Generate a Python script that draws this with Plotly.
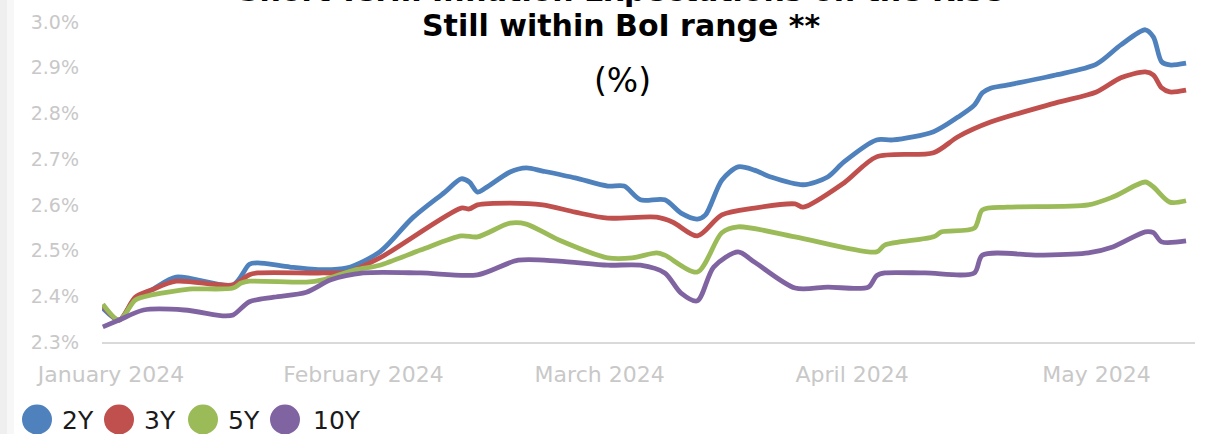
import plotly.graph_objects as go

# ---- data -------------------------------------------------------------
dates_2y = ["2023-12-31", "2024-01-02", "2024-01-04", "2024-01-06", "2024-01-09",
            "2024-01-16", "2024-01-18", "2024-01-19", "2024-01-23", "2024-01-27",
            "2024-01-30", "2024-02-03", "2024-02-07", "2024-02-11", "2024-02-13",
            "2024-02-14", "2024-02-15", "2024-02-16", "2024-02-19", "2024-02-21",
            "2024-02-23", "2024-02-27", "2024-03-02", "2024-03-04", "2024-03-06",
            "2024-03-09", "2024-03-11", "2024-03-13", "2024-03-14", "2024-03-16",
            "2024-03-18", "2024-03-20", "2024-03-22", "2024-03-26", "2024-03-29",
            "2024-03-31", "2024-04-04", "2024-04-06", "2024-04-11", "2024-04-14",
            "2024-04-16", "2024-04-17", "2024-04-18", "2024-04-20", "2024-04-26",
            "2024-05-01", "2024-05-04", "2024-05-07", "2024-05-08", "2024-05-09",
            "2024-05-10", "2024-05-12"]
values_2y = [2.374, 2.348, 2.396, 2.414, 2.442,
             2.425, 2.470, 2.473, 2.464, 2.458,
             2.462, 2.497, 2.571, 2.628, 2.657,
             2.650, 2.628, 2.637, 2.672, 2.681,
             2.674, 2.659, 2.641, 2.641, 2.611,
             2.611, 2.582, 2.569, 2.578, 2.654,
             2.683, 2.676, 2.661, 2.644, 2.661,
             2.694, 2.742, 2.742, 2.760, 2.792,
             2.818, 2.845, 2.855, 2.862, 2.884,
             2.908, 2.950, 2.983, 2.967, 2.913,
             2.906, 2.910]

dates_3y = ["2023-12-31", "2024-01-02", "2024-01-04", "2024-01-06", "2024-01-09",
            "2024-01-16", "2024-01-18", "2024-01-19", "2024-01-27", "2024-01-30",
            "2024-02-03", "2024-02-13", "2024-02-14", "2024-02-15", "2024-02-19",
            "2024-02-23", "2024-02-27", "2024-03-02", "2024-03-08", "2024-03-10",
            "2024-03-13", "2024-03-16", "2024-03-20", "2024-03-25", "2024-03-26",
            "2024-03-31", "2024-04-04", "2024-04-11", "2024-04-14", "2024-04-18",
            "2024-04-26", "2024-05-01", "2024-05-04", "2024-05-07", "2024-05-08",
            "2024-05-09", "2024-05-10", "2024-05-12"]
values_3y = [2.380, 2.348, 2.398, 2.414, 2.433,
             2.425, 2.447, 2.451, 2.451, 2.453,
             2.484, 2.593, 2.591, 2.600, 2.604,
             2.600, 2.584, 2.571, 2.573, 2.562,
             2.532, 2.578, 2.593, 2.602, 2.595,
             2.648, 2.705, 2.714, 2.749, 2.781,
             2.823, 2.847, 2.878, 2.891, 2.884,
             2.856, 2.847, 2.851]

dates_5y = ["2023-12-31", "2024-01-02", "2024-01-04", "2024-01-06", "2024-01-09",
            "2024-01-11", "2024-01-16", "2024-01-17", "2024-01-18", "2024-01-25",
            "2024-01-27", "2024-01-31", "2024-02-03", "2024-02-08", "2024-02-13",
            "2024-02-15", "2024-02-19", "2024-02-21", "2024-02-25", "2024-03-02",
            "2024-03-05", "2024-03-08", "2024-03-09", "2024-03-13", "2024-03-16",
            "2024-03-18", "2024-03-25", "2024-04-04", "2024-04-05", "2024-04-11",
            "2024-04-12", "2024-04-16", "2024-04-17", "2024-04-20", "2024-04-30",
            "2024-05-03", "2024-05-07", "2024-05-08", "2024-05-10", "2024-05-12"]
values_5y = [2.383, 2.348, 2.392, 2.403, 2.412,
             2.416, 2.418, 2.429, 2.433, 2.431,
             2.436, 2.458, 2.468, 2.501, 2.532,
             2.530, 2.560, 2.558, 2.523, 2.484,
             2.484, 2.495, 2.490, 2.453, 2.539,
             2.552, 2.530, 2.497, 2.512, 2.530,
             2.541, 2.549, 2.589, 2.595, 2.600,
             2.617, 2.650, 2.639, 2.606, 2.609]

dates_10y = ["2023-12-31", "2024-01-02", "2024-01-05", "2024-01-10", "2024-01-15",
             "2024-01-16", "2024-01-18", "2024-01-21", "2024-01-25", "2024-01-28",
             "2024-02-01", "2024-02-08", "2024-02-15", "2024-02-20", "2024-02-25",
             "2024-03-02", "2024-03-06", "2024-03-09", "2024-03-11", "2024-03-13",
             "2024-03-15", "2024-03-18", "2024-03-20", "2024-03-25", "2024-03-29",
             "2024-04-03", "2024-04-04", "2024-04-05", "2024-04-10", "2024-04-16",
             "2024-04-17", "2024-04-24", "2024-04-30", "2024-05-03", "2024-05-07",
             "2024-05-08", "2024-05-09", "2024-05-12"]
values_10y = [2.333, 2.348, 2.370, 2.370, 2.357,
              2.359, 2.388, 2.398, 2.409, 2.436,
              2.451, 2.451, 2.447, 2.479, 2.477,
              2.468, 2.468, 2.451, 2.407, 2.390,
              2.464, 2.497, 2.475, 2.418, 2.420,
              2.420, 2.445, 2.451, 2.451, 2.451,
              2.490, 2.490, 2.495, 2.508, 2.541,
              2.539, 2.519, 2.521]

series_names = ["2Y", "3Y", "5Y", "10Y"]
series_colors = ["#4F81BD", "#C0504D", "#9BBB59", "#8064A2"]
month_ticks = ["2024-01-01", "2024-02-01", "2024-03-01", "2024-04-01", "2024-05-01"]
month_labels = ["January 2024", "February 2024", "March 2024", "April 2024", "May 2024"]

title_lines = ["Short-Term Inflation Expectations on the Rise",
               "Still within BoI range **",
               "(%)"]

# ---- layout geometry (pixels) -----------------------------------------
W, H = 1229, 434
ML, MR, MT, MB = 102, 34, 22, 92
PW, PH = W - ML - MR, H - MT - MB


def fx(p):
    return (p - ML) / PW


def fy(p):
    return (H - MB - p) / PH


fig = go.Figure()
all_dates = [dates_2y, dates_3y, dates_5y, dates_10y]
all_values = [values_2y, values_3y, values_5y, values_10y]
for name, color, xs, ys in zip(series_names, series_colors, all_dates, all_values):
    fig.add_trace(go.Scatter(
        x=xs, y=ys, name=name, mode="lines",
        line=dict(color=color, width=4.8, shape="spline", smoothing=0.8),
        showlegend=False, hoverinfo="x+y+name",
    ))

fig.update_xaxes(
    type="date",
    range=["2023-12-30 21:36", "2024-05-13 02:24"],
    tickvals=month_ticks, ticktext=month_labels,
    showgrid=False, zeroline=False,
    showline=True, linecolor="#d9d9d9", linewidth=2,
    ticks="", ticklabelstandoff=12,
    tickfont=dict(family="DejaVu Sans", size=22, color="#c8c8c8"),
)
fig.update_yaxes(
    range=[2.3, 3.0], dtick=0.1, tick0=2.3,
    tickformat=".1f", ticksuffix="%",
    showgrid=False, zeroline=False, showline=False,
    ticks="", ticklabelstandoff=22,
    tickfont=dict(family="DejaVu Sans", size=19, color="#c8c8c8"),
)

annotations = []
shapes = []

# title block
title_cx = fx(621)
TITLE_FONT = dict(family="DejaVu Sans", size=30, color="#000000")
annotations.append(dict(text="<b>" + title_lines[0] + "</b>", x=title_cx, y=fy(-9),
                        xref="paper", yref="paper", xanchor="center", yanchor="middle",
                        showarrow=False, font=TITLE_FONT))
annotations.append(dict(text="<b>" + title_lines[1] + "</b>", x=title_cx, y=fy(25),
                        xref="paper", yref="paper", xanchor="center", yanchor="middle",
                        showarrow=False, font=TITLE_FONT))
annotations.append(dict(text=title_lines[2], x=fx(622), y=fy(81),
                        xref="paper", yref="paper", xanchor="center", yanchor="middle",
                        showarrow=False, font=dict(family="DejaVu Sans", size=33, color="#000000")))

# legend: filled circles with labels along the bottom edge
legend_circle_x = [37, 119, 203, 285]
legend_text_x = [60, 142, 226, 311]
legend_cy = 419.5
for name, color, cx, tx in zip(series_names, series_colors, legend_circle_x, legend_text_x):
    shapes.append(dict(type="circle", xref="paper", yref="paper",
                       x0=fx(cx - 15), x1=fx(cx + 15), y0=fy(legend_cy + 15), y1=fy(legend_cy - 15),
                       fillcolor=color, line=dict(width=0)))
    annotations.append(dict(text=name, x=fx(tx), y=fy(legend_cy + 1),
                            xref="paper", yref="paper", xanchor="left", yanchor="middle",
                            showarrow=False,
                            font=dict(family="DejaVu Sans", size=25, color="#1a1a1a")))

# faint shaded strip on the left edge of the page
shapes.append(dict(type="rect", xref="paper", yref="paper", layer="below",
                   x0=fx(0), x1=fx(7), y0=fy(H), y1=fy(0),
                   fillcolor="#efefef", line=dict(width=0)))
shapes.append(dict(type="rect", xref="paper", yref="paper", layer="below",
                   x0=fx(7), x1=fx(14), y0=fy(H), y1=fy(0),
                   fillcolor="#f7f7f7", line=dict(width=0)))

fig.update_layout(
    width=W, height=H,
    margin=dict(l=ML, r=MR, t=MT, b=MB, pad=0),
    paper_bgcolor="white", plot_bgcolor="white",
    annotations=annotations, shapes=shapes,
    showlegend=False,
)

fig.write_html("out.html")
